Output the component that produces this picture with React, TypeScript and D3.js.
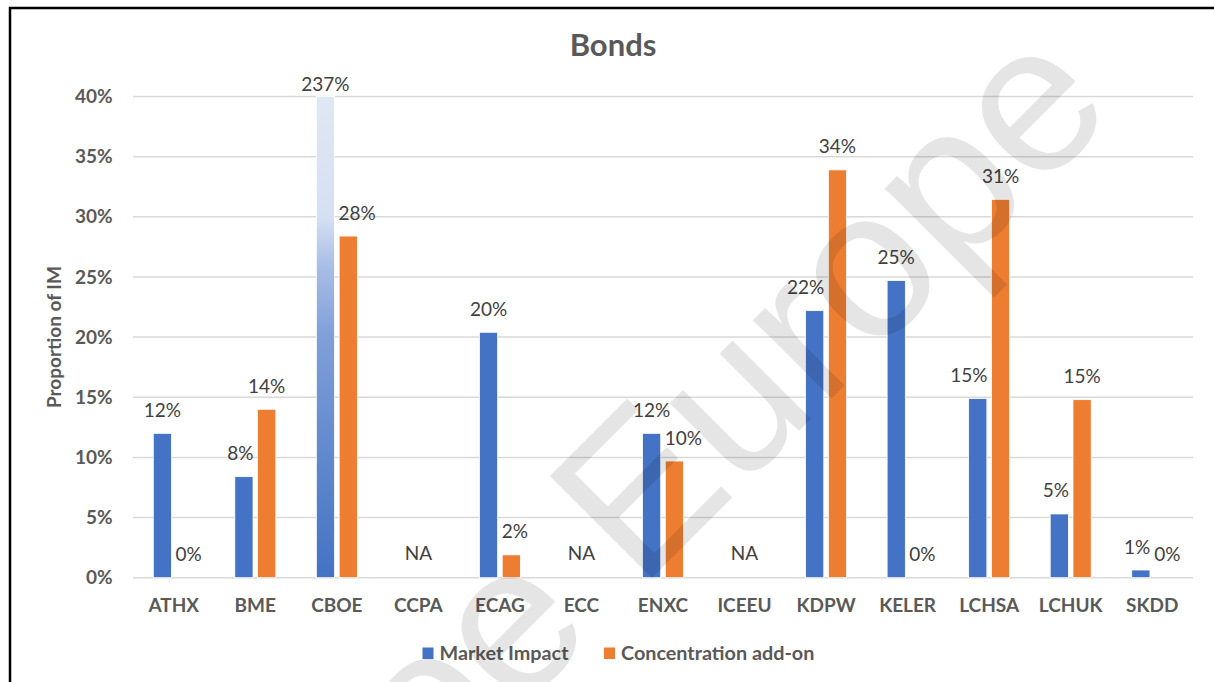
import React, { useEffect, useRef } from "react";
import * as d3 from "d3";

const categories = ["ATHX", "BME", "CBOE", "CCPA", "ECAG", "ECC", "ENXC", "ICEEU", "KDPW", "KELER", "LCHSA", "LCHUK", "SKDD"];
const marketImpact: (number | null)[] = [12, 8.4, 237, null, 20.4, null, 12, null, 22.2, 24.7, 14.9, 5.3, 0.64];
const concentrationAddOn: (number | null)[] = [0, 14, 28.4, null, 1.9, null, 9.7, null, 33.9, 0, 31.45, 14.8, 0];
const seriesNames = ["Market Impact", "Concentration add-on"];
const seriesColors = ["#4472C4", "#ED7D31"];
const yTicks = [0, 5, 10, 15, 20, 25, 30, 35, 40];
const yMax = 40;
const title = "Bonds";
const yTitle = "Proportion of IM";
const watermark = "Cboe Europe";

const W = 1214;
const H = 682;
const FONT = "Lato, 'Open Sans', sans-serif";

export default function App() {
  const ref = useRef<SVGSVGElement | null>(null);

  useEffect(() => {
    const svg = d3.select(ref.current);
    svg.selectAll("*").remove();

    const left = 133, right = 1193, top = 96.5, bottom = 577.7;
    const y = d3.scaleLinear().domain([0, yMax]).range([bottom, top]);
    const x0 = d3.scaleBand<string>().domain(categories).range([left, right]);
    const half = 20.5;
    const x1 = d3.scaleBand<string>().domain(seriesNames)
      .range([x0.bandwidth() / 2 - half, x0.bandwidth() / 2 + half]).paddingInner(0.2);
    const bw = x1.bandwidth();

    const defs = svg.append("defs");
    const grad = defs.append("linearGradient").attr("id", "overflowGrad")
      .attr("x1", 0).attr("y1", 1).attr("x2", 0).attr("y2", 0);
    [[0, "#4472C4"], [0.25, "#6088cd"], [0.5, "#7f9fd8"], [0.65, "#a9bee6"], [0.75, "#d6e0f3"], [1, "#e0e7f4"]]
      .forEach(([o, c]) => grad.append("stop").attr("offset", o as number).attr("stop-color", c as string));

    svg.append("rect").attr("x", 0).attr("y", 0).attr("width", W).attr("height", H).attr("fill", "#fff");
    svg.append("rect").attr("x", 10).attr("y", 8).attr("width", W + 50).attr("height", H + 50)
      .attr("fill", "none").attr("stroke", "#000").attr("stroke-width", 2.5);

    // gridlines
    svg.append("g").selectAll("line").data(yTicks).join("line")
      .attr("x1", left).attr("x2", right)
      .attr("y1", (d) => y(d)).attr("y2", (d) => y(d))
      .attr("stroke", "#d9d9d9").attr("stroke-width", 1.5);

    // y tick labels
    svg.append("g").selectAll("text").data(yTicks).join("text")
      .attr("x", 112.5).attr("y", (d) => y(d)).attr("dy", "0.35em")
      .attr("text-anchor", "end").attr("font-family", FONT).attr("font-weight", "bold")
      .attr("font-size", 19).attr("fill", "#595959").text((d) => `${d}%`);

    // x labels
    svg.append("g").selectAll("text").data(categories).join("text")
      .attr("x", (d) => (x0(d) as number) + x0.bandwidth() / 2).attr("y", 611.5)
      .attr("text-anchor", "middle").attr("font-family", FONT).attr("font-weight", "bold")
      .attr("font-size", 19).attr("fill", "#595959").text((d) => d);

    // title
    svg.append("text").attr("x", 613).attr("y", 56).attr("text-anchor", "middle")
      .attr("font-family", FONT).attr("font-weight", "bold").attr("font-size", 31)
      .attr("fill", "#595959").text(title);

    // y title
    svg.append("text").attr("transform", `translate(61,${(top + bottom) / 2}) rotate(-90)`)
      .attr("text-anchor", "middle").attr("font-family", FONT).attr("font-weight", "bold")
      .attr("font-size", 19).attr("fill", "#595959").text(yTitle);

    const seriesData = [marketImpact, concentrationAddOn];
    type Lab = { cat: number; s: number; cx: number; base: number; text: string; w: number; node?: SVGTextElement };
    const labels: Lab[] = [];
    const barsG = svg.append("g");
    seriesData.forEach((vals, s) => {
      vals.forEach((v, i) => {
        if (v === null) return;
        const cat = categories[i];
        const bx = (x0(cat) as number) + (x1(seriesNames[s]) as number);
        const vv = Math.min(v, yMax);
        const fill = v > yMax ? "url(#overflowGrad)" : seriesColors[s];
        if (v > 0) {
          barsG.append("rect").attr("x", bx).attr("width", bw)
            .attr("y", y(vv)).attr("height", y(0) - y(vv))
            .attr("fill", fill).attr("stroke", "#fff").attr("stroke-width", 0.8);
        }
        const base = v > yMax ? y(yMax) - 6 : y(vv) - 16.5;
        labels.push({ cat: i, s, cx: bx + bw / 2, base, text: `${Math.round(v)}%`, w: 0 });
      });
    });

    const labG = svg.append("g");
    labels.forEach((l) => {
      const t = labG.append("text").attr("x", l.cx).attr("y", l.base).attr("text-anchor", "middle")
        .attr("font-family", FONT).attr("font-size", 19).attr("fill", "#404040").text(l.text);
      l.node = t.node() as SVGTextElement;
      l.w = l.node.getComputedTextLength();
    });
    // collision nudges
    const gap = 4, th = 14;
    categories.forEach((_, i) => {
      const ls = labels.filter((l) => l.cat === i);
      ls.forEach((l) => {
        const other = 1 - l.s;
        const ov = seriesData[other][i];
        if (ov === null || ov <= 0) return;
        const otop = y(Math.min(ov, yMax));
        if (otop > l.base) return;
        const obx = (x0(categories[i]) as number) + (x1(seriesNames[other]) as number);
        if (l.s === 0) {
          const edge = l.cx + l.w / 2 + gap;
          if (edge > obx) l.cx -= edge - obx;
        } else {
          const edge = l.cx - l.w / 2 - gap;
          if (edge < obx + bw) l.cx += obx + bw - edge;
        }
      });
      if (ls.length === 2) {
        const [a, b] = ls[0].s === 0 ? ls : [ls[1], ls[0]];
        if (Math.abs(a.base - b.base) < th + 4) {
          const ov = a.cx + a.w / 2 + gap - (b.cx - b.w / 2);
          if (ov > 0) { a.cx -= ov / 2; b.cx += ov / 2; }
        }
      }
    });
    labels.forEach((l) => d3.select(l.node as SVGTextElement).attr("x", l.cx));

    // NA labels
    categories.forEach((c, i) => {
      if (marketImpact[i] === null && concentrationAddOn[i] === null) {
        labG.append("text").attr("x", (x0(c) as number) + x0.bandwidth() / 2).attr("y", y(0) - 17.5)
          .attr("text-anchor", "middle").attr("font-family", FONT).attr("font-size", 19)
          .attr("fill", "#404040").text("NA");
      }
    });

    // legend
    const leg = svg.append("g");
    const legX = [422.5, 604];
    seriesNames.forEach((n, s) => {
      leg.append("rect").attr("x", legX[s]).attr("y", 647.5).attr("width", 11).attr("height", 11.5)
        .attr("fill", seriesColors[s]);
      leg.append("text").attr("x", legX[s] + 17).attr("y", 659.5)
        .attr("font-family", FONT).attr("font-weight", "bold").attr("font-size", 19.8)
        .attr("fill", "#595959").text(n);
    });

    // watermark
    svg.append("text").attr("transform", "translate(681,549) rotate(-45)")
      .attr("text-anchor", "middle").attr("font-family", "'Liberation Sans', Arial, sans-serif")
      .attr("font-size", 210).attr("fill", "#000").attr("fill-opacity", 0.1).text(watermark);
  }, []);

  return (
    <svg ref={ref} width={W} height={H} viewBox={`0 0 ${W} ${H}`}
      style={{ position: "absolute", left: 0, top: 0, display: "block" }} />
  );
}
